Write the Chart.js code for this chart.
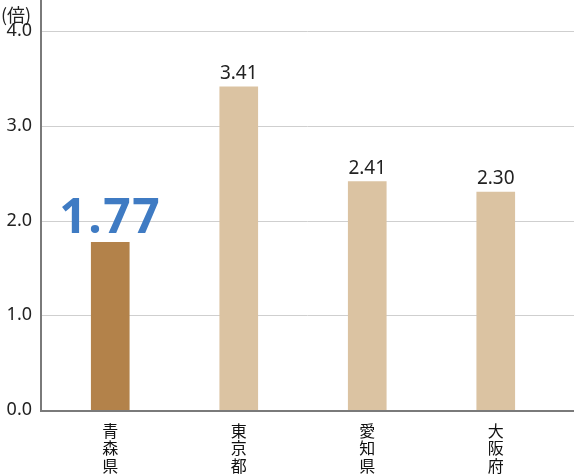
<!DOCTYPE html>
<html>
<head>
<meta charset="utf-8">
<script src="https://cdn.jsdelivr.net/npm/chart.js@4"></script>
<style>
  html, body { margin: 0; padding: 0; background: #fff; }
  #wrap { width: 574px; height: 474px; position: relative; }
</style>
</head>
<body>
<div id="wrap"><canvas id="ratioChart"></canvas></div>
<script>
const prefectures = ['青森県', '東京都', '愛知県', '大阪府'];
const ratios = [1.77, 3.41, 2.41, 2.30];
const yTicks = [0, 1, 2, 3, 4];
const unitLabel = '(倍)';

const barColors = ['#b3824a', '#dbc3a2', '#dbc3a2', '#dbc3a2'];

// gridlines + axis lines run a bit past the category band, like the original
const framePlugin = {
    id: 'frame',
    beforeDatasetsDraw(chart) {
        const ctx = chart.ctx;
        const y = chart.scales.y;
        const left = chart.chartArea.left - 5;
        ctx.save();
        ctx.strokeStyle = '#cfcfcf';
        ctx.lineWidth = 1;
        y.ticks.forEach(function (t) {
            if (t.value === 0) return;
            const py = Math.round(y.getPixelForValue(t.value)) + 0.5;
            ctx.beginPath();
            ctx.moveTo(left, py);
            ctx.lineTo(chart.width, py);
            ctx.stroke();
        });
        ctx.restore();
    },
    afterDatasetsDraw(chart) {
        const ctx = chart.ctx;
        const y = chart.scales.y;
        const left = chart.chartArea.left - 5;
        const base = y.getPixelForValue(0);
        ctx.save();
        ctx.strokeStyle = '#7a7a7a';
        ctx.lineWidth = 2;
        ctx.beginPath();
        ctx.moveTo(left, 0);
        ctx.lineTo(left, base + 1);
        ctx.lineTo(chart.width, base + 1);
        ctx.stroke();

        // unit label
        ctx.fillStyle = '#222';
        ctx.font = '18px "Noto Sans CJK JP"';
        ctx.textAlign = 'left';
        ctx.textBaseline = 'middle';
        ctx.fillText(unitLabel, 1, 15);

        // value labels above each bar
        const meta = chart.getDatasetMeta(0);
        meta.data.forEach(function (bar, i) {
            const txt = ratios[i].toFixed(2);
            ctx.textAlign = 'center';
            ctx.textBaseline = 'alphabetic';
            if (i === 0) {
                ctx.fillStyle = '#3f7bc3';
                ctx.font = 'bold 48px "Noto Sans"';
                ctx.letterSpacing = '1.5px';
                ctx.fillText(txt, bar.x, bar.y - 9);
                ctx.letterSpacing = '0px';
            } else {
                ctx.fillStyle = '#222';
                ctx.font = '19px "Noto Sans"';
                ctx.fillText(txt, bar.x, bar.y - 8);
            }
        });
        ctx.restore();
    }
};

new Chart(document.getElementById('ratioChart'), {
    type: 'bar',
    data: {
        labels: prefectures.map(function (p) { return p.split(''); }),
        datasets: [{
            data: ratios,
            backgroundColor: barColors,
            borderWidth: 0,
            barThickness: 38
        }]
    },
    options: {
        responsive: true,
        maintainAspectRatio: false,
        animation: false,
        layout: { padding: { top: 31, right: 14, left: 0, bottom: 0 } },
        plugins: {
            legend: { display: false },
            tooltip: { enabled: false }
        },
        scales: {
            x: {
                grid: { display: false, drawTicks: false },
                border: { display: false },
                ticks: {
                    color: '#111',
                    padding: 12,
                    maxRotation: 0,
                    font: { family: '"Noto Sans CJK JP"', size: 16, lineHeight: 1.1 }
                },
                afterFit: function (s) { s.height = 64; }
            },
            y: {
                min: yTicks[0],
                max: yTicks[yTicks.length - 1],
                grid: { display: false, drawTicks: false },
                border: { display: false },
                afterBuildTicks: function (s) {
                    s.ticks = yTicks.map(function (v) { return { value: v }; });
                },
                ticks: {
                    color: '#222',
                    padding: 14,
                    font: { family: '"Noto Sans"', size: 18 },
                    callback: function (v) { return Number(v).toFixed(1); }
                },
                afterFit: function (s) { s.width = 46; }
            }
        }
    },
    plugins: [framePlugin]
});
</script>
</body>
</html>
